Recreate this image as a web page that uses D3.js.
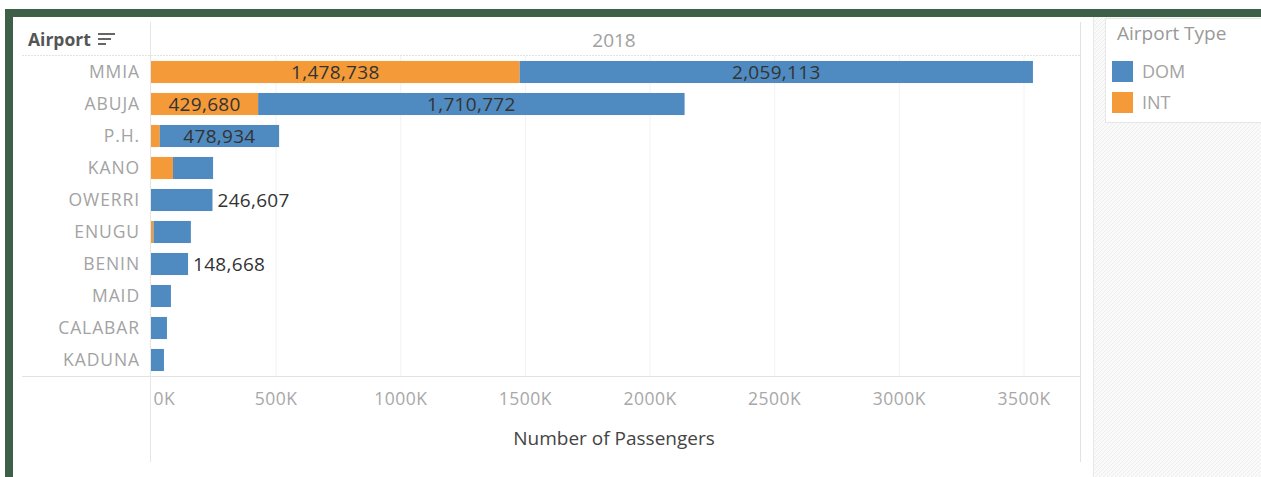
<!DOCTYPE html>
<html>
<head>
<meta charset="utf-8">
<script src="https://cdn.jsdelivr.net/npm/d3@7"></script>
<style>
  body { margin: 0; background: #fff; }
  svg text { font-family: "Open Sans", sans-serif; }
</style>
</head>
<body>
<svg id="chart" width="1261" height="477"></svg>
<script>
// dati
const airports = ["MMIA", "ABUJA", "P.H.", "KANO", "OWERRI", "ENUGU", "BENIN", "MAID", "CALABAR", "KADUNA"];
const intValues = [1478738, 429680, 35000, 88000, 0, 10000, 0, 0, 0, 0];
const domValues = [2059113, 1710772, 478934, 161000, 246607, 150000, 148668, 80000, 64000, 52000];
// etichette: "both" = INT e DOM dentro, "dom" = DOM dentro, "out" = DOM fuori, "" = nessuna
const labelModes = ["both", "both", "dom", "", "out", "", "out", "", "", ""];
const tickValues = [0, 500000, 1000000, 1500000, 2000000, 2500000, 3000000, 3500000];
const seriesNames = ["DOM", "INT"];
const colors = { DOM: "#4f8bc1", INT: "#f59a38" };

const svg = d3.select("#chart");
const fmt = d3.format(",");

// cornice verde
svg.append("rect").attr("x", 5).attr("y", 9).attr("width", 1256).attr("height", 8).attr("fill", "#3e5f48");
svg.append("rect").attr("x", 5).attr("y", 9).attr("width", 8).attr("height", 468).attr("fill", "#3e5f48");

// pannello legenda con tratteggio
const defs = svg.append("defs");
const pat = defs.append("pattern").attr("id", "hatch").attr("width", 4).attr("height", 4)
  .attr("patternUnits", "userSpaceOnUse");
pat.append("rect").attr("width", 4).attr("height", 4).attr("fill", "#fafafa");
pat.append("path").attr("d", "M0,4 L4,0").attr("stroke", "#eeeeee").attr("stroke-width", 1);
svg.append("rect").attr("x", 1094).attr("y", 17).attr("width", 167).attr("height", 460).attr("fill", "url(#hatch)");
svg.append("line").attr("x1", 1093.5).attr("x2", 1093.5).attr("y1", 17).attr("y2", 477)
  .attr("stroke", "#e8e8e8");

const x = d3.scaleLinear().domain([0, 3500000]).range([151, 1023.5]);
const y = d3.scaleBand().domain(airports).range([56, 376]).paddingInner(0.31).paddingOuter(0.155);

// griglia verticale
svg.append("g").selectAll("line").data(tickValues.slice(1)).enter().append("line")
  .attr("x1", d => x(d) + 0.5).attr("x2", d => x(d) + 0.5)
  .attr("y1", 56).attr("y2", 376)
  .attr("stroke", "#f2f2f2");

// linee strutturali
svg.append("line").attr("x1", 22).attr("x2", 1080).attr("y1", 55.5).attr("y2", 55.5)
  .attr("stroke", "#e2e2e2").attr("stroke-dasharray", "2,1");
svg.append("line").attr("x1", 22).attr("x2", 1080).attr("y1", 376.5).attr("y2", 376.5)
  .attr("stroke", "#e2e2e2");
svg.append("line").attr("x1", 150.5).attr("x2", 150.5).attr("y1", 22).attr("y2", 462)
  .attr("stroke", "#e6e6e6");
svg.append("line").attr("x1", 1080.5).attr("x2", 1080.5).attr("y1", 22).attr("y2", 462)
  .attr("stroke", "#e2e2e2");

// intestazioni
svg.append("text").attr("x", 28).attr("y", 46).attr("font-size", 17.5).attr("font-weight", 700)
  .attr("fill", "#555").text("Airport");
const icon = svg.append("g").attr("stroke", "#666").attr("stroke-width", 2);
[[98, 115, 34], [98, 111, 39], [98, 106, 44]].forEach(s => {
  icon.append("line").attr("x1", s[0]).attr("x2", s[1]).attr("y1", s[2]).attr("y2", s[2]);
});
svg.append("text").attr("x", 614).attr("y", 47).attr("font-size", 19).attr("text-anchor", "middle")
  .attr("fill", "#a0a0a0").text("2018");

// etichette categorie
svg.append("g").selectAll("text").data(airports).enter().append("text")
  .attr("x", 140).attr("y", d => y(d) + y.bandwidth() / 2)
  .attr("dy", "0.36em").attr("text-anchor", "end")
  .attr("font-size", 17.5).attr("fill", "#a3a3a3").attr("letter-spacing", 0.9)
  .text(d => d);

// barre impilate (INT a sinistra, DOM a destra)
const rows = airports.map((a, i) => ({ airport: a, INT: intValues[i], DOM: domValues[i], mode: labelModes[i] }));
const stack = d3.stack().keys(["INT", "DOM"])(rows);

svg.append("g").selectAll("g").data(stack).enter().append("g")
  .attr("fill", s => colors[s.key])
  .selectAll("rect").data(s => s).enter().append("rect")
  .attr("x", d => x(d[0]))
  .attr("y", d => y(d.data.airport))
  .attr("width", d => x(d[1]) - x(d[0]))
  .attr("height", y.bandwidth());

// etichette valori
const labels = svg.append("g").attr("font-size", 19).attr("fill", "#333").attr("letter-spacing", 0.3);
stack.forEach(s => {
  s.forEach(d => {
    const m = d.data.mode;
    const cy = y(d.data.airport) + y.bandwidth() / 2;
    const show = m === "both" || (m === "dom" && s.key === "DOM");
    if (show) {
      labels.append("text").attr("x", (x(d[0]) + x(d[1])) / 2).attr("y", cy)
        .attr("dy", "0.36em").attr("text-anchor", "middle").text(fmt(d.data[s.key]));
    }
    if (m === "out" && s.key === "DOM") {
      labels.append("text").attr("x", x(d[1]) + 5).attr("y", cy)
        .attr("dy", "0.36em").text(fmt(d.data[s.key]));
    }
  });
});

// asse x
const xAxis = d3.axisBottom(x).tickValues(tickValues).tickSize(0)
  .tickFormat(d => (d / 1000) + "K");
const ax = svg.append("g").attr("transform", "translate(0,390)").call(xAxis);
ax.select(".domain").remove();
ax.selectAll("text").attr("font-size", 17.5).attr("fill", "#a8a8a8").attr("letter-spacing", 0.5)
  .attr("font-family", "Open Sans, sans-serif");
ax.selectAll("text").filter(d => d === 0).attr("text-anchor", "start").attr("dx", 2);

svg.append("text").attr("x", 614).attr("y", 445).attr("text-anchor", "middle")
  .attr("font-size", 19).attr("fill", "#444").text("Number of Passengers");

// legenda
const lg = svg.append("g");
lg.append("rect").attr("x", 1105.5).attr("y", 18.5).attr("width", 160).attr("height", 104)
  .attr("fill", "#fff").attr("stroke", "#e6e6e6");
lg.append("text").attr("x", 1117).attr("y", 40).attr("font-size", 19).attr("fill", "#999")
  .text("Airport Type");
seriesNames.forEach((k, i) => {
  lg.append("rect").attr("x", 1112).attr("y", 61 + i * 31).attr("width", 21).attr("height", 21)
    .attr("fill", colors[k]);
  lg.append("text").attr("x", 1142).attr("y", 72 + i * 31).attr("dy", "0.36em")
    .attr("font-size", 18).attr("fill", "#a3a3a3").text(k);
});
</script>
</body>
</html>
